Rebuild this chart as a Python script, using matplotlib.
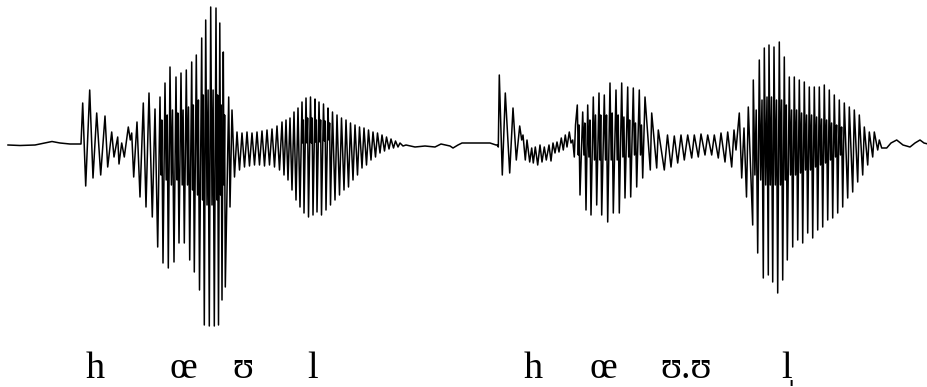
import numpy as np
import matplotlib
matplotlib.use("Agg")
from matplotlib import pyplot as plt

# turning points of the two waveforms:
# (time in px, amplitude in px above the zero line)
hovel = [
    (8, 0), (20, -0.5), (35, 0), (45, 2), (52, 3.5), (60, 2), (70, 1), (81, 1),
    # h
    (82.7, 42), (85.7, -41), (89.7, 55), (93, -33), (96.7, 32), (100.7, -30),
    (105, 29), (107.7, -22), (111.7, 13), (114, -12), (117.7, 8), (119, -19),
    (121.7, 2), (124.3, -12), (128.3, 18), (130.3, 5), (131.7, 12), (133.7, -32),
    # vowel
    (137, 23), (140, -52), (143.3, 42), (146, -62), (149, 52), (152.3, -72),
    (155, 36), (157.7, -102),
    (160, 48), (161, -30), (161.8, 25), (163, -118),
    (165, 62), (166.2, -35), (167.2, 30), (168.3, -123),
    (170, 78), (171.4, -40), (172.5, 35), (174, -117),
    (176, 68), (177, -35), (177.8, 32), (179, -98),
    (181, 72), (182.2, -40), (183.1, 35), (184.3, -98),
    (186.3, 75), (187.5, -40), (188.5, 38), (189.7, -115),
    (191.7, 83), (192.6, -45), (193.3, 40), (194.3, -127),
    (196.3, 90), (197.5, -50), (198.4, 45), (199.5, -145),
    (201.7, 107), (202.6, -55), (203.3, 50), (204.3, -180),
    (205.7, 125), (207, -60), (208.1, 55), (209.3, -181),
    (210.7, 138), (212, -60), (213.1, 55), (214.3, -181),
    (216, 137), (216.9, -55), (217.6, 50), (218.5, -180),
    (219.8, 122), (220.6, -50), (221.2, 40), (222, -155),
    (223.3, 93), (224, -40), (224.6, 30), (225.3, -142),
    (228.7, 48), (230, -62), (232, 35),
    # glide
    (234.5, -32), (237, 13), (239.5, -25), (242, 12), (244.5, -22), (247, 13),
    (249.5, -21), (252, 12), (254.5, -20), (257, 13), (259.5, -20), (262, 14),
    (264.5, -21), (267, 15), (269.5, -20), (272, 16), (274.5, -22), (277, 19),
    (279.5, -25),
    # l
    (282, 23), (284, -30), (286, 25), (288, -35), (290, 27), (292, -45),
    (294, 33), (296, -55), (298, 37), (300, -62),
    (302, 43), (302.8, 2), (303.3, 25), (304, -68),
    (306, 47), (306.9, 2), (307.6, 27), (308.5, -72),
    (310.5, 48), (311.4, 2), (312.1, 27), (313, -70),
    (315, 46), (315.7, 3), (316.3, 25), (317, -67),
    (319, 43), (319.9, 3), (320.6, 25), (321.5, -70),
    (323.5, 41), (324.4, 4), (325.1, 24), (326, -65),
    (328, 37), (328.9, 5), (329.6, 22), (330.5, -60),
    (332.5, 33), (335, -55), (337, 30), (339.5, -50), (341.5, 27), (344, -45),
    (346, 25), (348.5, -42), (350.5, 22), (353, -35), (355, 20), (357.5, -30),
    (359.5, 18), (362, -23), (364, 17), (366.5, -20), (368.5, 15), (371, -15),
    (373, 13), (375.5, -12), (377.5, 12), (380, -8), (382, 10), (384.5, -6),
    (386.5, 8), (389, -4), (391, 6), (393.5, -3), (395.5, 4), (398, -2),
    (400, 2), (403, -1), (406, 0),
    (415, -2), (425, -1), (435, -2), (441, 1), (450, -1), (453, -3),
    (458, 0), (462, 2), (470, 2), (480, 2), (490, 2), (496, 0),
]

hovvel = [
    (497, 0), (498.3, -2),
    # h
    (499.3, 70), (502.3, -30), (505.3, 52), (509.7, -28), (513, 37), (516.3, -15),
    (519.7, 19), (521.7, 5), (523, 10), (525.3, -15), (527, 5), (529.7, -17),
    (531.7, -3), (533.3, -18), (535.3, -2), (537.7, -20), (540, 0), (542, -17),
    (544.3, -2), (546.3, -15), (549, 0), (551, -16), (553, 2), (555, -8),
    (557, 3), (559, -7), (561.3, 7), (563.3, -5), (565.3, 10), (567, -2),
    (569.3, 13), (571, 2), (572.7, 5), (574.3, -12), (575.5, 20),
    # vowel
    (577.3, 40), (578.3, -10), (579, 20), (580, -50),
    (582.7, 33), (583.9, -10), (584.8, 22), (586, -65),
    (587.7, 40), (588.9, -12), (589.9, 25), (591, -70),
    (593.3, 48), (594.5, -15), (595.5, 30), (596.7, -60),
    (599, 52), (599.9, -15), (600.7, 30), (601.7, -70),
    (604.3, 50), (605.5, -15), (606.5, 30), (607.7, -77),
    (610, 62), (611.2, -15), (612.2, 32), (613.3, -68),
    (616, 55), (617.2, -15), (618.2, 30), (619.3, -68),
    (621.7, 62), (622.9, -12), (623.9, 28), (625, -53),
    (627.7, 58), (628.7, -12), (629.6, 25), (630.7, -52),
    (633.3, 57), (634.5, -10), (635.5, 22), (636.7, -42),
    (639.3, 55), (640.5, -10), (641.5, 20), (642.7, -33),
    (645, 48), (650.3, -25), (651.7, 32), (656.7, -23), (658.3, 15), (664.3, -25),
    # glide
    (667.5, 10), (671, -22), (674.3, 9), (677.7, -18), (681, 10), (684.3, -15),
    (687.7, 10), (691.7, -13), (694.3, 10), (698.3, -12), (701, 11), (705, -10),
    (707.7, 10), (711.7, -10), (714.3, 10), (718.3, -13), (721, 12), (725, -17),
    (727.7, 13), (731.7, -22), (734, 15), (736, -5),
    # l
    (739.3, 32), (741.7, -33), (744, 17), (746.5, -52), (748.3, 38), (752.7, -80),
    (753.3, 65), (754.9, -30), (756.2, 35), (757.7, -108),
    (759.3, 85), (760.7, -35), (762, 45), (763.3, -133),
    (764.3, 97), (765.7, -40), (767, 48), (768.3, -130),
    (769, 100), (770.3, -40), (771.5, 48), (772.7, -137),
    (774, 98), (775.3, -40), (776.5, 45), (777.7, -148),
    (779.3, 103), (780.5, -40), (781.6, 45), (782.7, -135),
    (784.3, 88), (785.3, -35), (786.3, 40), (787.3, -115),
    (789.3, 68), (790.5, -30), (791.6, 35), (792.7, -102),
    (794.3, 68), (795.5, -30), (796.6, 35), (797.7, -95),
    (799.3, 65), (800.5, -28), (801.6, 32), (802.7, -98),
    (804.3, 63), (805.5, -25), (806.6, 30), (807.7, -88),
    (809.3, 58), (810.5, -25), (811.6, 30), (812.7, -93),
    (814.3, 58), (815.5, -22), (816.6, 28), (817.7, -85),
    (819.3, 58), (820.5, -20), (821.6, 26), (822.7, -82),
    (824.3, 60), (825.5, -18), (826.6, 25), (827.7, -75),
    (829.3, 55), (830.5, -15), (831.6, 22), (832.7, -73),
    (834.3, 50), (835.5, -12), (836.6, 20), (837.7, -68),
    (839.3, 45), (840.5, -10), (841.6, 18), (842.7, -62),
    (844.3, 42), (847.7, -53), (849.3, 38), (852.7, -47), (854.3, 35), (857.7, -37),
    (859.3, 30), (862.7, -30), (864.3, 18), (867.7, -20), (869.3, 13), (872.7, -12),
    (874.3, 13), (877.7, -5), (879.3, 5), (881.7, -3),
    (886.7, -3), (891, 2), (896.7, 5), (903, 0), (910, -2), (915, 2),
    (920, 5), (924, 2), (928, 1),
]

# segment labels and where they sit on the time axis
left_labels = ["h", "œ", "ʊ", "l"]
left_label_t = [95, 183, 243, 313]
right_labels = ["h", "œ", "ʊ.ʊ", "l\u0329"]
right_label_t = [533, 603, 686, 787]

serif = ["Liberation Serif", "DejaVu Serif"]

fig = plt.figure(figsize=(9.28, 3.87), dpi=100)
ax = fig.add_axes([0, 0, 1, 1])

for wave in (hovel, hovvel):
    t, a = np.array(wave).T
    ax.plot(t, a, color="black", lw=1.1, solid_joinstyle="round")

label_y = 145 - 378
for labels, pos in ((left_labels, left_label_t), (right_labels, right_label_t)):
    for lab, x in zip(labels, pos):
        ax.text(x, label_y, lab, ha="center", va="baseline",
                fontsize=27.5, family=serif, color="black")

ax.set_xlim(0, 928)
ax.set_ylim(145 - 387, 145)
ax.axis("off")

fig.savefig("out.png", dpi=100, facecolor="white")
